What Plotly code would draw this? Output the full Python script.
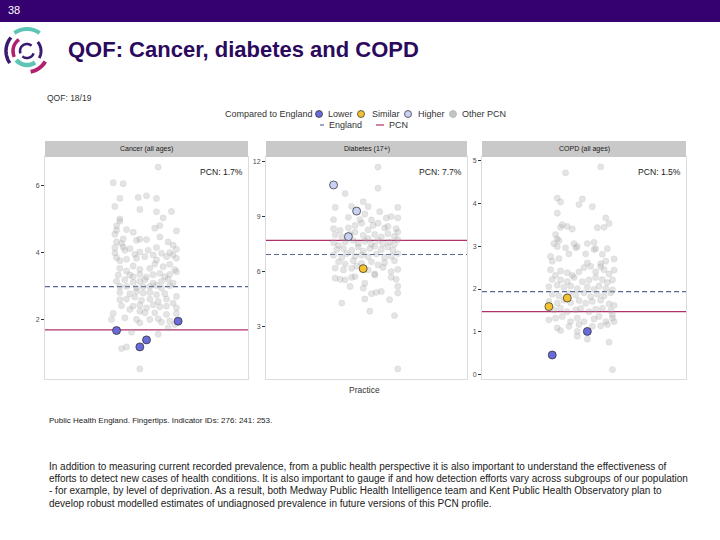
import numpy as np
import plotly.graph_objects as go

W, H = 720, 540

# ---------------- data ----------------
indicators = ["Cancer (all ages)", "Diabetes (17+)", "COPD (all ages)"]
england_value = [2.98, 6.94, 1.94]
pcn_value = [1.69, 7.71, 1.47]
y_ranges = [[0.22, 6.86], [0.17, 12.24], [-0.10, 5.08]]
y_ticks = [[2, 4, 6], [3, 6, 9, 12], [0, 1, 2, 3, 4, 5]]
comparison_levels = ["Lower", "Similar", "Higher", "Other PCN"]

# other PCN practices: (jitter, prevalence %)
cancer_other = [(0.07,6.56),(-0.20,6.09),(-0.14,6.06),(-0.16,5.62),(-0.05,5.65),(0.00,5.70),(0.06,5.62),(-0.19,5.38),(-0.04,5.29),(0.06,5.22),(0.15,5.23),(-0.16,5.01),(-0.16,4.94),(0.10,5.04),(-0.18,4.80),(-0.18,4.67),(-0.12,4.69),(0.05,4.73),(0.08,4.81),(-0.19,4.55),(-0.08,4.61),(-0.14,4.41),(-0.04,4.40),(0.00,4.39),(0.18,4.65),(-0.18,4.32),(-0.15,4.27),(-0.19,4.15),(-0.14,4.17),(-0.06,4.37),(0.08,4.47),(0.13,4.32),(0.16,4.22),(-0.13,4.07),(-0.10,4.12),(-0.19,3.99),(-0.07,3.95),(-0.04,4.02),(0.01,4.07),(0.06,4.15),(0.09,3.98),(0.14,4.00),(0.18,4.10),(-0.18,3.85),(-0.12,3.80),(-0.16,3.76),(-0.06,3.83),(-0.01,3.88),(0.04,3.93),(0.06,3.78),(0.12,3.88),(0.16,3.93),(0.18,3.83),(-0.16,3.53),(-0.12,3.45),(-0.08,3.60),(-0.04,3.50),(0.02,3.53),(0.05,3.66),(0.10,3.58),(0.14,3.65),(0.17,3.49),(-0.17,3.33),(-0.10,3.33),(-0.08,3.28),(-0.04,3.35),(0.00,3.27),(0.04,3.34),(0.08,3.38),(0.11,3.28),(0.14,3.35),(0.18,3.43),(-0.18,3.14),(-0.13,3.19),(-0.08,3.11),(-0.04,3.14),(-0.01,3.19),(0.04,3.09),(0.09,3.14),(0.13,3.20),(0.16,3.09),(-0.16,2.99),(-0.12,2.99),(-0.06,2.94),(-0.02,2.98),(0.02,2.99),(0.06,3.02),(0.09,2.94),(0.14,3.01),(-0.16,2.81),(-0.10,2.77),(-0.06,2.84),(-0.02,2.79),(0.02,2.81),(0.06,2.74),(0.11,2.77),(0.18,2.69),(-0.16,2.59),(-0.12,2.61),(-0.07,2.67),(-0.03,2.57),(0.02,2.61),(0.07,2.54),(0.12,2.61),(0.16,2.49),(-0.15,2.41),(-0.08,2.40),(-0.04,2.43),(0.00,2.35),(0.04,2.44),(0.08,2.38),(0.12,2.40),(0.18,2.35),(-0.20,2.18),(-0.10,2.30),(-0.04,2.25),(-0.01,2.20),(0.05,2.20),(0.12,2.15),(0.18,2.18),(-0.21,2.00),(-0.13,2.05),(-0.06,2.00),(-0.04,1.90),(0.02,2.00),(0.07,2.02),(0.09,1.92),(0.14,1.95),(0.17,1.85),(-0.09,1.62),(0.07,1.56),(0.13,1.75),(-0.15,1.13),(-0.12,1.18),(-0.04,0.52)]
diabetes_other = [(0.07,11.69),(-0.13,10.25),(0.07,10.54),(-0.19,9.50),(-0.09,9.56),(-0.02,9.81),(0.01,9.54),(0.08,9.27),(0.19,9.50),(-0.20,8.84),(-0.11,8.96),(-0.04,8.84),(-0.01,9.14),(0.03,8.82),(0.12,8.93),(0.15,9.00),(0.19,8.93),(-0.20,8.34),(-0.16,8.25),(-0.11,8.39),(-0.07,8.52),(-0.03,8.64),(0.01,8.28),(0.04,8.52),(0.07,8.64),(0.11,8.39),(0.13,8.46),(0.18,8.34),(0.19,8.16),(-0.19,8.01),(-0.15,7.89),(-0.10,8.03),(-0.07,8.16),(-0.02,7.98),(0.01,7.80),(0.05,8.03),(0.09,7.89),(0.13,8.07),(0.17,7.92),(0.19,7.75),(-0.20,7.58),(-0.17,7.44),(-0.13,7.62),(-0.08,7.71),(-0.05,7.53),(-0.01,7.66),(0.03,7.49),(0.07,7.71),(0.10,7.53),(0.14,7.62),(0.17,7.49),(-0.18,7.21),(-0.14,7.26),(-0.09,7.17),(-0.05,7.35),(-0.02,7.12),(0.02,7.26),(0.05,7.39),(0.09,7.21),(0.13,7.35),(0.16,7.17),(-0.20,6.90),(-0.15,6.78),(-0.12,6.99),(-0.07,6.85),(-0.03,6.90),(0.01,6.81),(0.06,6.96),(0.11,6.78),(0.15,6.85),(0.19,6.99),(-0.17,6.54),(-0.13,6.42),(-0.08,6.60),(-0.03,6.46),(0.03,6.54),(0.07,6.37),(0.11,6.49),(0.17,6.60),(-0.19,6.20),(-0.14,6.10),(-0.09,6.19),(-0.06,6.31),(0.01,6.10),(0.05,5.88),(0.10,6.24),(0.15,6.01),(0.19,6.13),(-0.19,5.65),(-0.16,5.59),(-0.13,5.56),(-0.09,5.70),(-0.07,5.74),(-0.01,5.38),(0.05,5.83),(0.15,5.70),(0.18,5.59),(-0.10,5.20),(-0.02,5.11),(0.03,4.81),(0.06,4.88),(0.09,4.93),(0.19,5.20),(0.19,4.84),(0.14,4.48),(-0.15,4.30),(-0.01,4.52),(0.02,3.86),(0.17,3.62),(0.19,0.72)]
copd_other = [(0.10,4.85),(-0.11,4.71),(-0.16,4.12),(-0.14,4.03),(-0.01,4.10),(-0.03,3.97),(0.05,3.92),(0.13,3.66),(0.15,3.53),(0.12,3.44),(0.08,3.43),(-0.16,3.77),(-0.13,3.50),(-0.14,3.44),(-0.10,3.46),(-0.07,3.40),(-0.17,3.27),(-0.16,3.17),(-0.15,3.13),(-0.18,3.06),(-0.16,2.99),(-0.11,2.96),(-0.06,3.06),(-0.04,2.99),(0.02,3.06),(0.06,3.09),(0.07,2.94),(0.14,2.94),(0.11,2.81),(-0.20,2.76),(-0.19,2.65),(-0.15,2.71),(-0.09,2.82),(-0.05,2.96),(0.01,2.82),(0.06,2.92),(0.02,2.61),(0.10,2.59),(0.13,2.65),(0.18,2.70),(0.10,2.52),(-0.20,2.45),(-0.14,2.42),(-0.17,2.32),(-0.10,2.38),(-0.07,2.32),(-0.03,2.40),(0.00,2.50),(0.04,2.53),(0.07,2.40),(0.12,2.45),(0.15,2.35),(0.18,2.44),(-0.19,2.22),(-0.14,2.21),(-0.10,2.17),(-0.06,2.27),(-0.01,2.17),(0.03,2.21),(0.07,2.27),(0.11,2.22),(0.14,2.15),(0.17,2.21),(-0.21,2.05),(-0.16,2.09),(-0.12,2.04),(-0.08,2.07),(-0.04,2.01),(0.02,2.05),(0.06,1.99),(0.09,2.07),(0.13,2.01),(0.17,1.98),(-0.19,1.88),(-0.15,1.84),(-0.09,1.90),(-0.05,1.86),(0.00,1.91),(0.04,1.82),(0.08,1.88),(0.12,1.84),(0.16,1.91),(-0.21,1.71),(-0.16,1.67),(-0.12,1.74),(-0.08,1.68),(-0.03,1.73),(0.01,1.67),(0.05,1.71),(0.10,1.74),(0.15,1.65),(0.18,1.62),(-0.18,1.51),(-0.14,1.55),(-0.10,1.47),(-0.05,1.51),(-0.02,1.55),(0.03,1.47),(0.07,1.53),(0.11,1.55),(0.16,1.50),(-0.21,1.28),(-0.17,1.32),(-0.13,1.36),(-0.08,1.24),(-0.04,1.32),(0.00,1.24),(0.06,1.30),(0.09,1.36),(0.13,1.24),(0.17,1.40),(0.17,1.32),(-0.16,1.09),(-0.14,1.03),(-0.09,1.13),(-0.03,1.17),(0.05,1.13),(0.10,1.14),(0.14,1.17),(0.18,1.24),(-0.04,1.01),(-0.04,0.90),(0.02,0.83),(0.15,0.76),(0.17,0.12)]

# this PCN's practices: (jitter, prevalence %, compared to England)
cancer_pcn = [(-0.18,1.67,"Lower"),(0.19,1.95,"Lower"),(-0.04,1.18,"Lower"),(0.00,1.39,"Lower")]
diabetes_pcn = [(-0.20,10.72,"Higher"),(-0.06,9.30,"Higher"),(-0.11,7.91,"Higher"),(-0.02,6.17,"Similar")]
copd_pcn = [(-0.21,1.59,"Similar"),(-0.10,1.79,"Similar"),(0.02,1.01,"Lower"),(-0.19,0.46,"Lower")]

other_sets = [cancer_other, diabetes_other, copd_other]
pcn_sets = [cancer_pcn, diabetes_pcn, copd_pcn]

# ---------------- styling ----------------
FONT = "Liberation Sans, Arial, sans-serif"
cmp_colors = {"Lower": "#6a6ad8", "Similar": "#f2c233", "Higher": "#c9d1f4", "Other PCN": "#c4c4c4"}
ENG_COL = "#5a6a98"
PCN_COL = "#b0306e"
TXT = "#333333"
panels_px = [(45, 248), (266, 467), (482, 686)]
PANEL_TOP, PANEL_BOT, STRIP_TOP = 157, 379, 141


def px(x):
    return x / W


def py(y):
    return 1 - y / H


def label(text, x, y, size, color=TXT, xanchor="left"):
    return dict(text=text, xref="paper", yref="paper", x=px(x), y=py(y), xanchor=xanchor,
                yanchor="middle", showarrow=False, font=dict(size=size, color=color, family=FONT))


fig = go.Figure()
shapes, annotations = [], []
layout_axes = {}

for i in range(3):
    n = "" if i == 0 else str(i + 1)
    xa, ya = "x" + n, "y" + n
    l, r = panels_px[i]
    others = other_sets[i]
    fig.add_trace(go.Scatter(
        x=[p[0] for p in others], y=[p[1] for p in others], mode="markers",
        xaxis=xa, yaxis=ya, showlegend=False, hoverinfo="skip",
        marker=dict(size=6.3, color="rgba(165,165,165,0.3)",
                    line=dict(width=0.5, color="rgba(150,150,150,0.22)"))))
    for lvl in comparison_levels[:3]:
        pts = [p for p in pcn_sets[i] if p[2] == lvl]
        if not pts:
            continue
        fig.add_trace(go.Scatter(
            x=[p[0] for p in pts], y=[p[1] for p in pts], mode="markers",
            xaxis=xa, yaxis=ya, showlegend=False,
            marker=dict(size=8, color=cmp_colors[lvl], line=dict(width=0.7, color="#2a2a2a"))))
    layout_axes["xaxis" + n] = dict(domain=[px(l), px(r)], range=[-0.61, 0.61], anchor=ya,
                                    showticklabels=False, ticks="", showgrid=False, zeroline=False,
                                    showline=True, mirror=True, linecolor="#dcdcdc", linewidth=1)
    layout_axes["yaxis" + n] = dict(domain=[py(PANEL_BOT), py(PANEL_TOP)], range=y_ranges[i], anchor=xa,
                                    tickvals=y_ticks[i], ticks="outside", ticklen=3, tickwidth=1,
                                    tickcolor="#333333", showgrid=False, zeroline=False,
                                    showline=True, mirror=True, linecolor="#dcdcdc", linewidth=1,
                                    tickfont=dict(size=7, color="#4d4d4d", family=FONT))
    # reference lines
    shapes.append(dict(type="line", xref=xa + " domain", yref=ya, x0=0, x1=1,
                       y0=england_value[i], y1=england_value[i], layer="below",
                       line=dict(color=ENG_COL, width=1.2, dash="5px,3px")))
    shapes.append(dict(type="line", xref=xa + " domain", yref=ya, x0=0, x1=1,
                       y0=pcn_value[i], y1=pcn_value[i], layer="below",
                       line=dict(color=PCN_COL, width=1.2)))
    # strip
    shapes.append(dict(type="rect", xref="paper", yref="paper", x0=px(l), x1=px(r),
                       y0=py(PANEL_TOP), y1=py(STRIP_TOP), fillcolor="#c9c9c9", line=dict(width=0)))
    annotations.append(label(indicators[i], (l + r) / 2, (STRIP_TOP + PANEL_TOP) / 2, 7,
                             "#1a1a1a", "center"))
    annotations.append(label("PCN: %.1f%%" % pcn_value[i], r - 3, 172, 8.6, "#1a1a1a", "right"))

# header bar
shapes.append(dict(type="rect", xref="paper", yref="paper", x0=0, x1=1, y0=py(22), y1=1,
                   fillcolor="#35006f", line=dict(width=0)))
annotations.append(label("38", 6, 10, 11, "white"))

# logo arcs
cx, cy = 27, 51
arcs = [(22, 55, 125, "#5ec4b6", 4), (21, 140, 215, "#3a1a6e", 3.5), (21, 280, 330, "#b0206e", 4),
        (14, 125, 205, "#b0206e", 3.5), (14, 220, 305, "#5ec4b6", 4.5), (14, -30, 40, "#3a1a6e", 3),
        (7, 50, 200, "#3a1a6e", 2.5), (7, 230, 340, "#3a1a6e", 2.5)]
for r_, a0, a1, col, w_ in arcs:
    t = np.radians(np.linspace(a0, a1, 24))
    xs = cx + r_ * np.cos(t)
    ys = cy - r_ * np.sin(t)
    path = "M " + " L ".join("%.5f,%.5f" % (px(a), py(b)) for a, b in zip(xs, ys))
    shapes.append(dict(type="path", xref="paper", yref="paper", path=path,
                       line=dict(color=col, width=w_)))

annotations.append(label("<b>QOF: Cancer, diabetes and COPD</b>", 66, 50, 22, "#2b0a5e"))
annotations.append(label("QOF: 18/19", 45, 98, 8.5))

# legend row 1
LEG_Y1, LEG_Y2 = 114, 125
annotations.append(label("Compared to England", 223, LEG_Y1, 9))
leg_items = [("Lower", 319, 326), ("Similar", 361, 370), ("Higher", 408, 416), ("Other PCN", 453, 460)]
for lvl, mx, tx in leg_items:
    edge = "#2a2a2a" if lvl != "Other PCN" else "#b0b0b0"
    shapes.append(dict(type="circle", xref="paper", yref="paper", x0=px(mx - 3.5), x1=px(mx + 3.5),
                       y0=py(LEG_Y1 + 3.5), y1=py(LEG_Y1 - 3.5), fillcolor=cmp_colors[lvl],
                       line=dict(color=edge, width=0.7)))
    annotations.append(label(lvl, tx, LEG_Y1, 9))
# legend row 2
shapes.append(dict(type="line", xref="paper", yref="paper", x0=px(320), x1=px(324), y0=py(LEG_Y2),
                   y1=py(LEG_Y2), line=dict(color=ENG_COL, width=1.2)))
annotations.append(label("England", 327, LEG_Y2, 9))
shapes.append(dict(type="line", xref="paper", yref="paper", x0=px(376), x1=px(384), y0=py(LEG_Y2),
                   y1=py(LEG_Y2), line=dict(color=PCN_COL, width=1.2)))
annotations.append(label("PCN", 387, LEG_Y2, 9))

annotations.append(label("Practice", 364, 390, 8.5, TXT, "center"))
annotations.append(label("Public Health England. Fingertips. Indicator IDs: 276: 241: 253.", 47, 420, 8,
                         "#1a1a1a"))

para = ["In addition to measuring current recorded prevalence, from a public health perspective it is also important to understand the effectiveness of",
        "efforts to detect new cases of health conditions. It is also important to gauge if and how detection efforts vary across subgroups of our population",
        "- for example, by level of deprivation. As a result, both Medway Public Health Intelligence team and Kent Public Health Observatory plan to",
        "develop robust modelled estimates of undiagnosed prevalence in future versions of this PCN profile."]
for k, line in enumerate(para):
    annotations.append(label(line, 47, 466 + 12.4 * k, 10, "#1a1a1a"))

fig.update_layout(width=W, height=H, margin=dict(l=0, r=0, t=0, b=0), paper_bgcolor="white",
                  plot_bgcolor="white", showlegend=False, shapes=shapes, annotations=annotations,
                  font=dict(family=FONT), **layout_axes)

fig.write_html("out.html", config={"displayModeBar": False},
               post_script="document.body.style.margin='0';document.body.style.overflow='hidden';")
